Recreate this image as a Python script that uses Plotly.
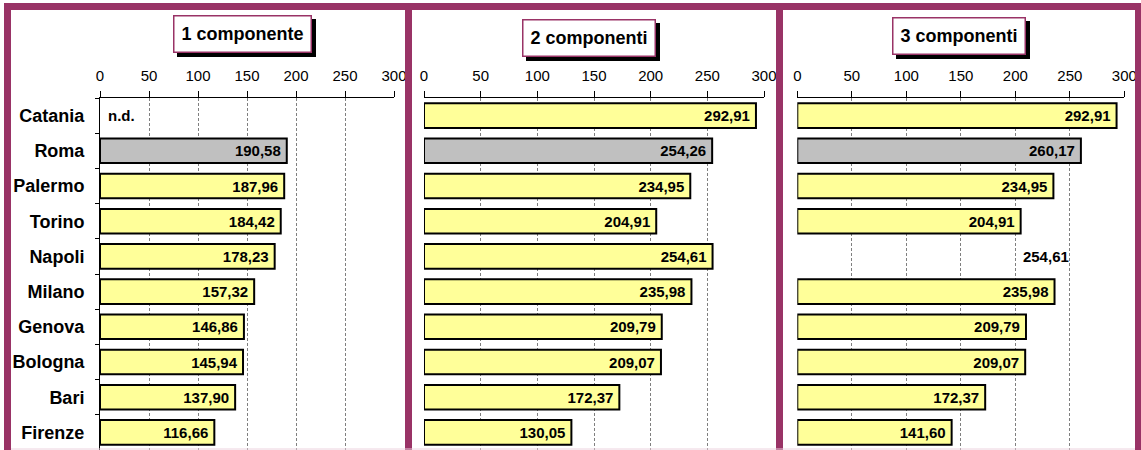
import plotly.graph_objects as go

# ---- data -------------------------------------------------------------
cities = ["Catania", "Roma", "Palermo", "Torino", "Napoli",
          "Milano", "Genova", "Bologna", "Bari", "Firenze"]
panel_titles = ["1 componente", "2 componenti", "3 componenti"]
vals_1 = [None, 190.58, 187.96, 184.42, 178.23, 157.32, 146.86, 145.94, 137.90, 116.66]
vals_2 = [292.91, 254.26, 234.95, 204.91, 254.61, 235.98, 209.79, 209.07, 172.37, 130.05]
vals_3 = [292.91, 260.17, 234.95, 204.91, 254.61, 235.98, 209.79, 209.07, 172.37, 141.60]
highlight_city = "Roma"          # drawn in grey
no_bar = {2: ["Napoli"]}         # value printed, bar not drawn (panel index -> cities)
missing_label = "n.d."
tick_vals = [0, 50, 100, 150, 200, 250, 300]

# ---- style ------------------------------------------------------------
W, H = 1141, 450
FRAME = "#993366"
YELLOW = "#FFFF99"
GREY = "#C0C0C0"
FONT = "Arial, Liberation Sans, sans-serif"
THIN = "\u2009"   # small gap after the value inside each bar


def px(x):
    return x / W


def py(y):
    return 1 - y / H


x_domains = [[px(100), px(394)], [px(424), px(764)], [px(797.3), px(1124.3)]]
y_domain = [0, py(98)]
# title boxes: (left, top, right, bottom) in pixels
title_boxes = [(173, 15, 312, 53), (522, 19, 656, 57), (892, 17, 1026, 55)]
SHADOW = 4
BOX_BW, BOX_PAD = 1.5, 3


def fmt(v):
    return f"{v:.2f}".replace(".", ",")


fig = go.Figure()
all_vals = [vals_1, vals_2, vals_3]

for i, vals in enumerate(all_vals):
    sfx = "" if i == 0 else str(i + 1)
    hidden = no_bar.get(i, [])
    colors, widths, texts = [], [], []
    for c, v in zip(cities, vals):
        if c in hidden:
            colors.append("rgba(0,0,0,0)")
            widths.append(0)
        else:
            colors.append(GREY if c == highlight_city else YELLOW)
            widths.append(2)
        texts.append("" if v is None else fmt(v) + THIN)
    fig.add_trace(go.Bar(
        x=vals, y=cities, orientation="h",
        xaxis="x" + sfx, yaxis="y" + sfx,
        width=0.7,
        marker=dict(color=colors, line=dict(color="black", width=widths)),
        text=texts, textposition="inside", insidetextanchor="end",
        textfont=dict(family=FONT, size=15, color="black", weight="bold"),
        constraintext="none", cliponaxis=False,
        hoverinfo="skip", showlegend=False,
    ))

    fig.update_layout(**{
        "xaxis" + sfx: dict(
            domain=x_domains[i], anchor="y" + sfx, side="top",
            range=[0, 300], tickvals=tick_vals, fixedrange=True,
            automargin=False,
            showline=True, linecolor="black", linewidth=1,
            ticks="outside", ticklen=6, tickcolor="black",
            ticklabelstandoff=4,
            tickfont=dict(family=FONT, size=15, color="black"),
            showgrid=True, gridcolor="#7f7f7f", gridwidth=1, griddash="3px,2px",
            zeroline=False,
        ),
        "yaxis" + sfx: dict(
            domain=y_domain, anchor="x" + sfx,
            range=[9.5, -0.5], type="category",
            categoryorder="array", categoryarray=cities,
            automargin=False,
            showticklabels=(i == 0),
            showline=(i == 0), linecolor="black", linewidth=1,
            ticks="outside" if i == 0 else "", ticklen=4, tickcolor="black",
            tickson="boundaries",
            ticklabelstandoff=11,
            tickfont=dict(family=FONT, size=18, color="black", weight="bold"),
            showgrid=False, zeroline=False, fixedrange=True,
        ),
    })

# ---- frame ------------------------------------------------------------
shapes = []
for x0, x1 in [(4, 11), (405, 412), (776, 783), (1135, 1141)]:
    shapes.append(dict(type="rect", xref="paper", yref="paper",
                       x0=px(x0), x1=px(x1), y0=0, y1=py(3),
                       fillcolor=FRAME, line_width=0, layer="above"))
shapes.append(dict(type="rect", xref="paper", yref="paper",
                   x0=px(4), x1=1, y0=py(10), y1=py(3),
                   fillcolor=FRAME, line_width=0, layer="above"))
shapes.append(dict(type="line", xref="paper", yref="paper",
                   x0=px(11), x1=px(1135), y0=py(449), y1=py(449),
                   line=dict(color="#ecd2de", width=1), layer="above"))

# ---- panel titles: white box with a black drop shadow -------------------
annotations = []
for (l, t, r, b), title in zip(title_boxes, panel_titles):
    shapes.append(dict(type="rect", xref="paper", yref="paper",
                       x0=px(l + SHADOW), x1=px(r + SHADOW),
                       y0=py(b + SHADOW), y1=py(t + SHADOW),
                       fillcolor="black", line_width=0, layer="above"))
    annotations.append(dict(
        xref="paper", yref="paper", x=px((l + r) / 2), y=py((t + b) / 2),
        xanchor="center", yanchor="middle", text=title, showarrow=False,
        width=(r - l) - 2 * (BOX_BW + BOX_PAD), height=(b - t) - 2 * (BOX_BW + BOX_PAD),
        borderpad=BOX_PAD, borderwidth=BOX_BW, bordercolor=FRAME, bgcolor="white",
        font=dict(family=FONT, size=18, color="black", weight="bold"),
    ))

# missing value in the first panel
annotations.append(dict(xref="x", yref="y", x=0, y=cities[0], text=missing_label,
                        showarrow=False, xanchor="left", yanchor="middle", xshift=6,
                        font=dict(family=FONT, size=15, color="black", weight="bold")))

fig.update_layout(
    width=W, height=H, margin=dict(l=0, r=0, t=0, b=0, autoexpand=False),
    paper_bgcolor="white", plot_bgcolor="white",
    barmode="overlay", shapes=shapes, annotations=annotations,
)

fig.write_html(
    "out.html",
    post_script="document.body.style.margin='0';document.body.style.overflow='hidden';",
)
